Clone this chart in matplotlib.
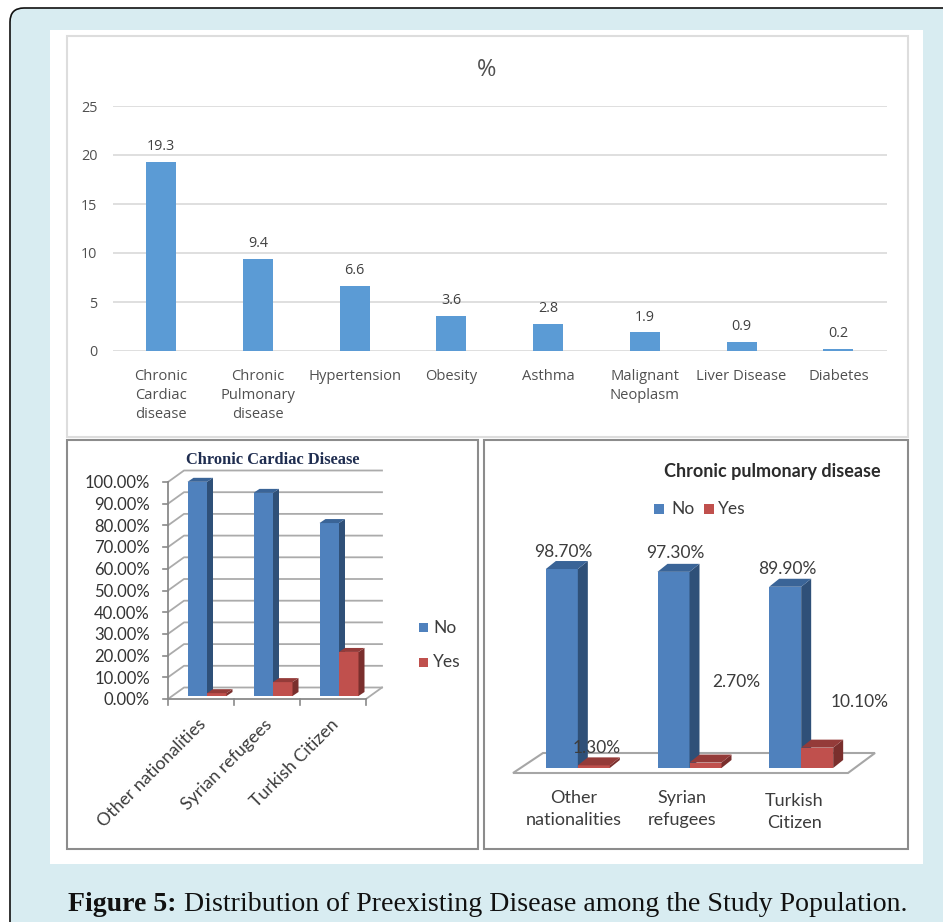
import matplotlib
matplotlib.use("Agg")
import matplotlib.pyplot as plt
from matplotlib.patches import FancyBboxPatch, Rectangle, Polygon

W, H = 943, 922

# Overall prevalence panel
disease_labels = ["Chronic\nCardiac\ndisease", "Chronic\nPulmonary\ndisease", "Hypertension", "Obesity",
                  "Asthma", "Malignant\nNeoplasm", "Liver Disease", "Diabetes"]
disease_pct = [19.3, 9.4, 6.6, 3.6, 2.8, 1.9, 0.9, 0.2]
pct_ticks = [0, 5, 10, 15, 20, 25]

# Breakdown by nationality
cardiac_groups = ["Other nationalities", "Syrian refugees", "Turkish Citizen"]
cardiac_no = [98.7, 93.6, 79.7]
cardiac_yes = [1.3, 6.4, 20.3]
cardiac_ticks = [0, 10, 20, 30, 40, 50, 60, 70, 80, 90, 100]

pulmonary_groups = ["Other\nnationalities", "Syrian\nrefugees", "Turkish\nCitizen"]
pulmonary_no = [98.7, 97.3, 89.9]
pulmonary_yes = [1.3, 2.7, 10.1]

BLUE, BLUE_SIDE, BLUE_TOP = "#4F81BD", "#2F5078", "#3A6497"
RED, RED_SIDE, RED_TOP = "#C0504D", "#7A2F2D", "#943B39"
TXT = "#3C3C3C"
SANS = "Open Sans"
CALIBRI = "Lato"

fig = plt.figure(figsize=(W / 100, H / 100), dpi=100, facecolor="white")


def axes_px(left, top, right, bottom, **kw):
    """Axes placed by pixel edges, y measured from the top of the figure."""
    return fig.add_axes([left / W, 1 - bottom / H, (right - left) / W, (bottom - top) / H], **kw)


# Page furniture, in pixel coordinates
bg = axes_px(0, 0, W, H, zorder=0)
bg.set_xlim(0, W)
bg.set_ylim(H, 0)
bg.axis("off")
bg.add_patch(FancyBboxPatch((10, 8), 1000, 1000, boxstyle="round,pad=0,rounding_size=14",
                            fc="#D8ECF1", ec="#111111", lw=1.2))
bg.add_patch(Rectangle((50, 30), 873, 834, fc="white", ec="none"))
bg.add_patch(Rectangle((66.5, 36.5), 841, 400, fc="white", ec="#DDDDDD", lw=1.5))
bg.add_patch(Rectangle((66.5, 440), 411, 408.5, fc="white", ec="#8C8C8C", lw=1.5))
bg.add_patch(Rectangle((483.5, 440), 424.5, 408.5, fc="white", ec="#8C8C8C", lw=1.5))


def label(x, y, s, **kw):
    kw.setdefault("ha", "center")
    kw.setdefault("va", "center")
    kw.setdefault("color", TXT)
    return bg.text(x, y, s, **kw)


# Top panel: flat column chart
ax = axes_px(112.7, 106, 886.7, 351, zorder=1)
ax.patch.set_alpha(0)
ax.set_xlim(0, len(disease_pct))
ax.set_ylim(0, 25)
centers = [i + 0.5 for i in range(len(disease_pct))]
ax.bar(centers, disease_pct, width=0.31, color="#5B9BD5", zorder=3)
for x, v in zip(centers, disease_pct):
    ax.text(x, v + 0.8, f"{v}", ha="center", va="bottom", fontsize=10.4, family=SANS, color="#404040")
ax.set_yticks(pct_ticks)
ax.set_xticks(centers)
ax.set_xticklabels(disease_labels, fontsize=10.6, family=SANS, color="#505050", linespacing=1.34)
ax.tick_params(axis="x", length=0, pad=13)
ax.tick_params(axis="y", length=0, pad=11, labelsize=10.4, labelcolor="#505050")
for t in ax.get_yticklabels():
    t.set_family(SANS)
ax.grid(axis="y", color="#D9D9D9", lw=1.2, zorder=0)
for s in ax.spines.values():
    s.set_visible(False)
label(487, 70, "%", fontsize=17, family=SANS, color="#505050")


def bar3d(ax, x, width, base, value, dx, dy, colors):
    """Front face from the bar call, with side and top faces offset by the depth."""
    front, side, top = colors
    ax.bar(x, value, width, bottom=base, align="edge", color=front, zorder=5, clip_on=False)
    h = base + value
    ax.add_patch(Polygon([(x + width, base), (x + width + dx, base + dy), (x + width + dx, h + dy), (x + width, h)],
                         fc=side, ec="none", zorder=5, clip_on=False))
    ax.add_patch(Polygon([(x, h), (x + dx, h + dy), (x + width + dx, h + dy), (x + width, h)],
                         fc=top, ec="none", zorder=5, clip_on=False))


# Lower left panel: 3D columns on a walled plot area
LEFT, RIGHT, TOP100, ZERO = 168, 366, 482, 699
a1 = axes_px(LEFT, TOP100, RIGHT, ZERO, zorder=1)
a1.patch.set_alpha(0)
a1.set_xlim(0, 3)
a1.set_ylim(0, 100)
a1.axis("off")
ux1 = 3 / (RIGHT - LEFT)
uy1 = 100 / (ZERO - TOP100)
wall_dx, wall_dy = 16 * ux1, 11.5 * uy1
for v in cardiac_ticks:
    a1.plot([0, wall_dx, 3 + wall_dx], [v, v + wall_dy, v + wall_dy], color="#ABABAB", lw=1.3,
            clip_on=False, zorder=1)
a1.plot([3, 3 + wall_dx], [0, wall_dy], color="#ABABAB", lw=1.3, clip_on=False, zorder=1)
a1.plot([0, 3], [0, 0], color="#8A8A8A", lw=1.3, clip_on=False, zorder=2)
a1.plot([0, 0], [0, 100], color="#8A8A8A", lw=1.3, clip_on=False, zorder=2)
for v in cardiac_ticks:
    a1.plot([-5 * ux1, 0], [v, v], color="#8A8A8A", lw=1.2, clip_on=False, zorder=2)
    a1.text(-18 * ux1, v - 0.6, f"{v:.2f}%", ha="right", va="center", fontsize=12, family=CALIBRI, color="#333333")
for i in range(4):
    a1.plot([i, i], [0, -6 * uy1], color="#8A8A8A", lw=1.2, clip_on=False, zorder=2)
bw1 = 19.5 * ux1
for i, (no, yes) in enumerate(zip(cardiac_no, cardiac_yes)):
    mid = i + 0.5 + 6 * ux1
    bar3d(a1, mid - bw1, bw1, 3 * uy1, no, 6 * ux1, 4 * uy1, (BLUE, BLUE_SIDE, BLUE_TOP))
    bar3d(a1, mid, bw1, 3 * uy1, yes, 6 * ux1, 4 * uy1, (RED, RED_SIDE, RED_TOP))
for i, name in enumerate(cardiac_groups):
    a1.text(i + 0.5 - 3 * ux1, -17 * uy1, name, rotation=45, rotation_mode="anchor", ha="right", va="top",
            fontsize=12.8, family=CALIBRI, color=TXT)
label(273, 460, "Chronic Cardiac Disease", fontsize=11.8, family="Liberation Serif", weight="bold", color="#1F2D50")
bg.add_patch(Rectangle((419, 623), 8.5, 8.5, fc=BLUE, ec="none"))
bg.add_patch(Rectangle((419, 658), 8.5, 8.5, fc=RED, ec="none"))
label(433, 628, "No", ha="left", fontsize=12.5, family=CALIBRI)
label(433, 662, "Yes", ha="left", fontsize=12.5, family=CALIBRI)

# Lower right panel: 3D columns on a floor plate
L2, R2, Z2 = 513, 848, 773
PX_PER_PCT = 2.016
T2 = Z2 - 100 * PX_PER_PCT
a2 = axes_px(L2, T2, R2, Z2, zorder=1)
a2.patch.set_alpha(0)
a2.set_xlim(0, 3)
a2.set_ylim(0, 100)
a2.axis("off")
ux2 = 3 / (R2 - L2)
uy2 = 1 / PX_PER_PCT
a2.add_patch(Polygon([(0, 0), (3, 0), (3 + 27 * ux2, 20 * uy2), (30 * ux2, 20 * uy2)],
                     fc="white", ec="#A6A6A6", lw=1.5, clip_on=False, zorder=1))
bw2 = 32 * ux2
for i, (no, yes) in enumerate(zip(pulmonary_no, pulmonary_yes)):
    mid = i + 0.5 + 9 * ux2
    bar3d(a2, mid - bw2, bw2, 5 * uy2, no, 10 * ux2, 8 * uy2, (BLUE, BLUE_SIDE, BLUE_TOP))
    bar3d(a2, mid, bw2, 5 * uy2, yes, 10 * ux2, 8 * uy2, (RED, RED_SIDE, RED_TOP))
# Data labels sit where they were dragged to, not directly on the columns
no_label_xy = [(563, 552), (675, 553), (787, 569)]
yes_label_xy = [(597, 748), (736, 682), (860, 702)]
for (x, y), v in zip(no_label_xy, pulmonary_no):
    label(x, y, f"{v:.2f}%", fontsize=12.5, family=CALIBRI)
for (x, y), v in zip(yes_label_xy, pulmonary_yes):
    fig.text(x / W, 1 - y / H, f"{v:.2f}%", ha="center", va="center", fontsize=12.5, family=CALIBRI, color=TXT)
for (x, y), name in zip([(574, 809), (682, 809), (794, 812)], pulmonary_groups):
    label(x, y, name, fontsize=13, family=CALIBRI, linespacing=1.42)
label(772, 471, "Chronic pulmonary disease", fontsize=13, family=CALIBRI, weight="bold", color="#2B2B2B")
bg.add_patch(Rectangle((654, 504), 9.5, 9.5, fc=BLUE, ec="none"))
bg.add_patch(Rectangle((704, 504), 9.5, 9.5, fc=RED, ec="none"))
label(671, 509, "No", ha="left", fontsize=12.5, family=CALIBRI)
label(718, 509, "Yes", ha="left", fontsize=12.5, family=CALIBRI)

# Figure caption
label(68, 904, "Figure 5:", ha="left", fontsize=20, family="Liberation Serif", weight="bold", color="#111111")
label(184, 904, "Distribution of Preexisting Disease among the Study Population.", ha="left",
      fontsize=20.1, family="Liberation Serif", color="#111111")

fig.savefig("out.png", dpi=100)
